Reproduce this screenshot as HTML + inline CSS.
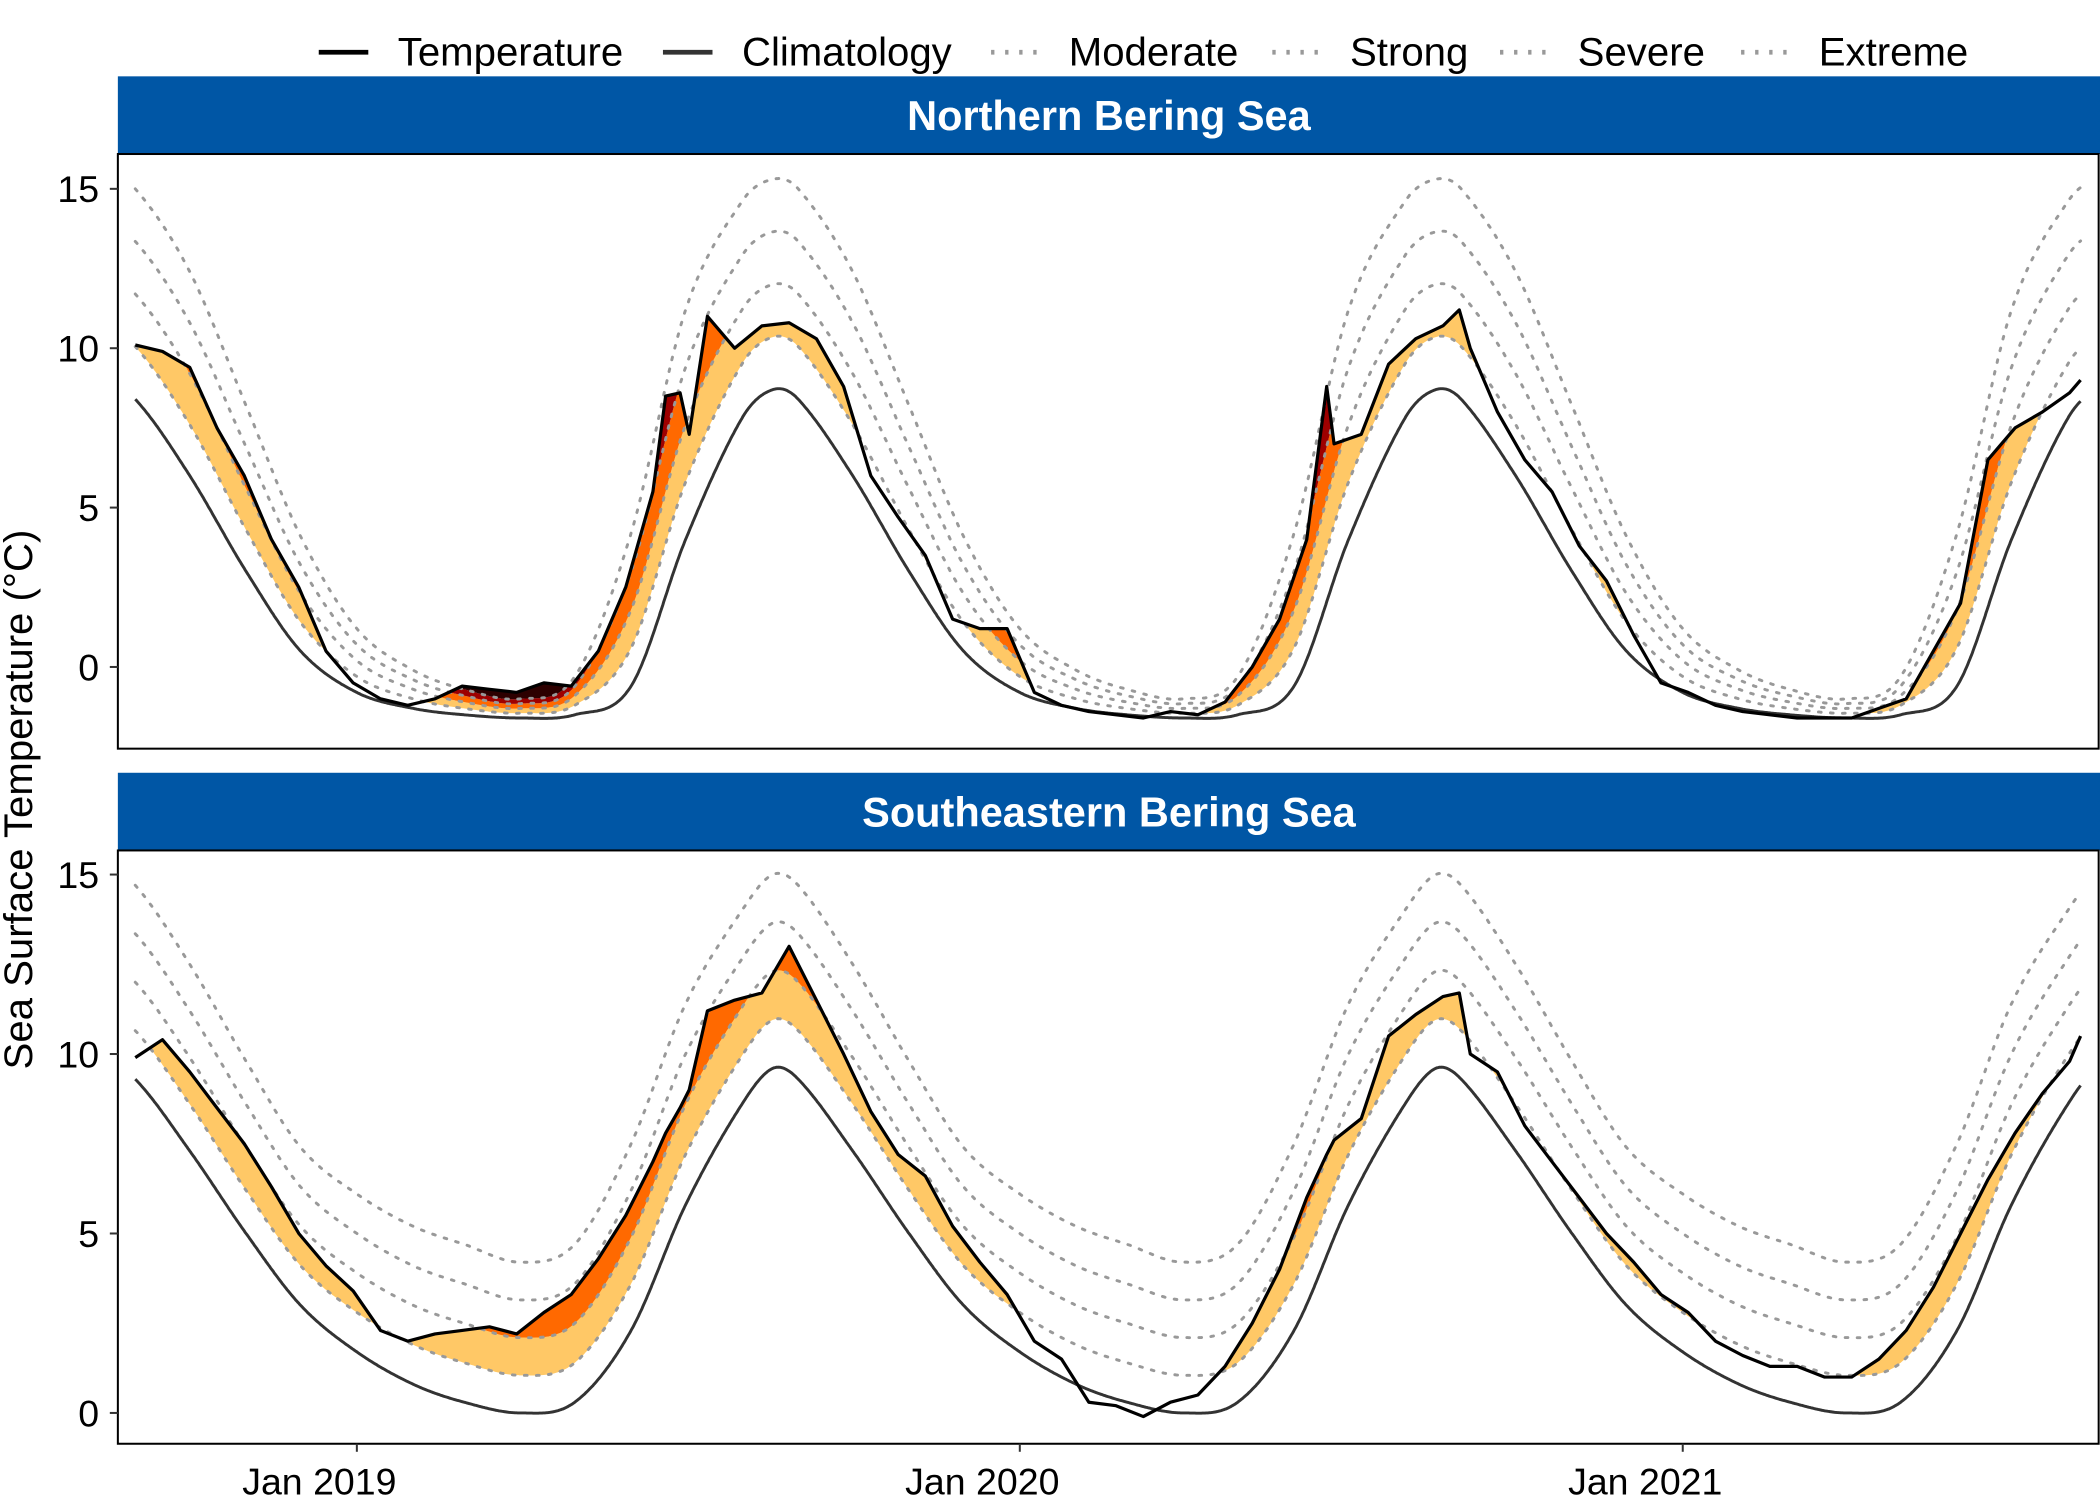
<!DOCTYPE html>
<html><head><meta charset="utf-8"><style>
html,body{margin:0;padding:0;background:#fff;}
svg{display:block;font-family:"Liberation Sans",Arial,sans-serif;}
</style></head><body>
<svg id="chart" width="2100" height="1500" viewBox="0 0 1568 1120" xmlns="http://www.w3.org/2000/svg">
<g id="legend">
 <g><line x1="238" y1="39" x2="275" y2="39" stroke="#000" stroke-width="3.5"/><text x="297" y="49" font-size="30">Temperature</text></g>
 <g><line x1="495" y1="39" x2="532" y2="39" stroke="#333" stroke-width="3.5"/><text x="554" y="49" font-size="30">Climatology</text></g>
 <g><line x1="740" y1="39" x2="777" y2="39" stroke="#999" stroke-width="3.5" stroke-dasharray="2.5,8"/><text x="798" y="49" font-size="30">Moderate</text></g>
 <g><line x1="950" y1="39" x2="987" y2="39" stroke="#999" stroke-width="3.5" stroke-dasharray="2.5,8"/><text x="1008" y="49" font-size="30">Strong</text></g>
 <g><line x1="1120" y1="39" x2="1157" y2="39" stroke="#999" stroke-width="3.5" stroke-dasharray="2.5,8"/><text x="1178" y="49" font-size="30">Severe</text></g>
 <g><line x1="1300" y1="39" x2="1337" y2="39" stroke="#999" stroke-width="3.5" stroke-dasharray="2.5,8"/><text x="1358" y="49" font-size="30">Extreme</text></g>
</g>
<text transform="translate(24,597) rotate(-90)" text-anchor="middle" font-size="30">Sea Surface Temperature (°C)</text>
</svg>
<script>
// ---- data ----
var tempDays = [0,15,30,45,60,75,90,105,120,135,150,165,180,195,210,225,240,255,270,285,292,300,305,315,330,345,360,375,390,405,420,435,450,465,480,495,510,525,540,555,570,585,600,615,630,645,656,660,675,690,705,720,729,735,750,765,780,795,810,825,840,855,870,885,900,915,930,945,960,975,990,1005,1020,1035,1050,1065,1071];
var nbsTemp = [10.1,9.9,9.4,7.5,6.0,4.0,2.5,0.5,-0.5,-1.0,-1.2,-1.0,-0.6,-0.7,-0.8,-0.5,-0.6,0.5,2.5,5.5,8.5,8.6,7.3,11.0,10.0,10.7,10.8,10.3,8.8,6.0,4.7,3.5,1.5,1.2,1.2,-0.8,-1.2,-1.4,-1.5,-1.6,-1.4,-1.5,-1.1,0.0,1.5,4.0,8.8,7.0,7.3,9.5,10.3,10.7,11.2,10.0,8.0,6.5,5.5,3.8,2.7,1.0,-0.5,-0.8,-1.2,-1.4,-1.5,-1.6,-1.6,-1.6,-1.3,-1.0,0.5,2.0,6.5,7.5,8.0,8.6,9.0];
var sebsTemp = [9.9,10.4,9.5,8.5,7.5,6.3,5.0,4.1,3.4,2.3,2.0,2.2,2.3,2.4,2.2,2.8,3.3,4.3,5.5,7.0,7.8,8.5,9.0,11.2,11.5,11.7,13.0,11.5,10.0,8.4,7.2,6.6,5.2,4.2,3.3,2.0,1.5,0.3,0.2,-0.1,0.3,0.5,1.3,2.5,4.0,6.0,7.2,7.6,8.2,10.5,11.1,11.6,11.7,10.0,9.5,8.0,7.0,6.0,5.0,4.2,3.3,2.8,2.0,1.6,1.3,1.3,1.0,1.0,1.5,2.3,3.5,5.0,6.5,7.8,8.9,9.8,10.5];
var climDoy = [0,31,59,90,120,151,181,212,229,243,273,304,334,365];
var nbsClim = [-0.8,-1.3,-1.5,-1.6,-1.5,-0.6,4.0,7.8,8.7,8.4,6.0,3.0,0.5,-0.8];
var nbsDiff = [0.5,0.3,0.2,0.15,0.3,1.2,1.8,1.7,1.65,1.65,1.6,1.3,0.9,0.5];
var sebsClim = [1.7,0.8,0.3,0.0,0.3,2.3,5.8,8.6,9.6,9.3,7.3,5.0,3.0,1.7];
var sebsDiff = [1.1,1.1,1.1,1.05,1.1,1.3,1.4,1.35,1.35,1.35,1.3,1.2,1.1,1.1];
var yTicks = [0,5,10,15];
var xTickDays = [122,487,852];
var xTickLabels = ["Jan 2019","Jan 2020","Jan 2021"];
var panelNames = ["Northern Bering Sea","Southeastern Bering Sea"];
var bandColors = ["#ffc866","#ff6900","#9e0000","#2d0000"];

var NS="http://www.w3.org/2000/svg";
var svg=document.getElementById('chart');
function mk(tag,attrs,parent){var e=document.createElementNS(NS,tag);for(var k in attrs)e.setAttribute(k,attrs[k]);(parent||svg).appendChild(e);return e;}
function interp(xs,ys,x){if(x<=xs[0])return ys[0];for(var i=1;i<xs.length;i++){if(x<=xs[i]){var t=(x-xs[i-1])/(xs[i]-xs[i-1]);return ys[i-1]+t*(ys[i]-ys[i-1]);}}return ys[ys.length-1];}
function smooth(xs,ys,x){
 var n=xs.length-1;
 var i=1;while(i<n&&x>xs[i])i++;
 var i0=i-1,i1=i;
 var pm=i0-1<0?n-1:i0-1, pp=i1+1>n?1:i1+1;
 var x0=xs[i0],x1=xs[i1];
 var xm=i0-1<0?xs[n-1]-365:xs[pm], xp=i1+1>n?xs[1]+365:xs[pp];
 var y0=ys[i0],y1=ys[i1],ym=ys[pm],yp=ys[pp];
 var m0=(y1-ym)/(x1-xm)*(x1-x0), m1=(yp-y0)/(xp-x0)*(x1-x0);
 var t=(x-x0)/(x1-x0),t2=t*t,t3=t2*t;
 return (2*t3-3*t2+1)*y0+(t3-2*t2+t)*m0+(-2*t3+3*t2)*y1+(t3-t2)*m1;
}
var X0=101, PX_PER_DAY=495/365;
function xs(d){return X0+d*PX_PER_DAY;}
var maxDay=tempDays[tempDays.length-1];

var panels=[
 {top:115,bot:559,stripTop:57,yAt:function(v){return 498-v*23.8;},temp:nbsTemp,clim:nbsClim,diff:nbsDiff,key:'nbs'},
 {top:635,bot:1078,stripTop:577,yAt:function(v){return 1055-v*26.8;},temp:sebsTemp,clim:sebsClim,diff:sebsDiff,key:'sebs'}
];
panels.forEach(function(p,pi){
 var g=mk('g',{});
 
 
 var strip=mk('rect',{x:88,y:p.stripTop,width:1480,height:p.top-p.stripTop,fill:'#0056a5'},g);
 
 
 var st=mk('text',{x:828,y:(p.stripTop+p.top)/2+11,'text-anchor':'middle','font-size':'31','font-weight':'bold',fill:'#fff'},g);
 st.textContent=panelNames[pi];
 
 
 var cid='clip'+pi;
 var cp=mk('clipPath',{id:cid},g);mk('rect',{x:88,y:p.top,width:1480,height:p.bot-p.top},cp);
 var plot=mk('g',{'clip-path':'url(#'+cid+')'},g);
 var days=[];for(var d=0;d<=maxDay;d+=0.5)days.push(d);
 function doy(d){return (243+d)%365;}
 var T=days.map(function(d){return interp(tempDays,p.temp,d);});
 var C=days.map(function(d){return smooth(climDoy,p.clim,doy(d));});
 var D=days.map(function(d){return smooth(climDoy,p.diff,doy(d));});
 for(var k=0;k<4;k++){
  var top=[],bottom=[];
  for(var i=0;i<days.length;i++){
   var lo=C[i]+(k+1)*D[i], hi=k<3?C[i]+(k+2)*D[i]:1e9;
   var v=Math.max(lo,Math.min(T[i],hi));
   top.push(xs(days[i]).toFixed(1)+','+p.yAt(v).toFixed(1));
   bottom.unshift(xs(days[i]).toFixed(1)+','+p.yAt(lo).toFixed(1));
  }
  var poly=mk('polygon',{points:top.concat(bottom).join(' '),fill:bandColors[k],stroke:'none'},plot);
  
  
 }
 for(var k=1;k<=4;k++){
  var pts=days.map(function(d,i){return xs(d).toFixed(1)+','+p.yAt(C[i]+k*D[i]).toFixed(1);}).join(' ');
  var pl=mk('polyline',{points:pts,fill:'none',stroke:'#999','stroke-width':2.2,'stroke-dasharray':'2,7','stroke-linecap':'round'},plot);
  
  
 }
 var cl=mk('polyline',{points:days.map(function(d,i){return xs(d).toFixed(1)+','+p.yAt(C[i]).toFixed(1);}).join(' '),fill:'none',stroke:'#333','stroke-width':2.2},plot);
 
 
 var tl=mk('polyline',{points:tempDays.map(function(d,i){return xs(d).toFixed(1)+','+p.yAt(p.temp[i]).toFixed(1);}).join(' '),fill:'none',stroke:'#000','stroke-width':2.4,'stroke-linejoin':'round'},plot);
 
 
 var fr=mk('rect',{x:88,y:p.top,width:1479,height:p.bot-p.top,fill:'none',stroke:'#000','stroke-width':1.5},g);
 
 
 yTicks.forEach(function(v){
  var y=p.yAt(v);
  var tk=mk('line',{x1:82,x2:88,y1:y,y2:y,stroke:'#333','stroke-width':1.5},g);
  
  
  var tx=mk('text',{x:74,y:y+10,'text-anchor':'end','font-size':'28',fill:'#000'},g);
  tx.textContent=String(v);
  
  
 });
});
xTickDays.forEach(function(d,i){
 var x=xs(d);
 var tk=mk('line',{x1:x,x2:x,y1:1078,y2:1084,stroke:'#333','stroke-width':1.5});
 
 
 var tx=mk('text',{x:x-28,y:1116,'text-anchor':'middle','font-size':'28',fill:'#000'});
 tx.textContent=xTickLabels[i];
 
 
});
</script>
</body></html>
